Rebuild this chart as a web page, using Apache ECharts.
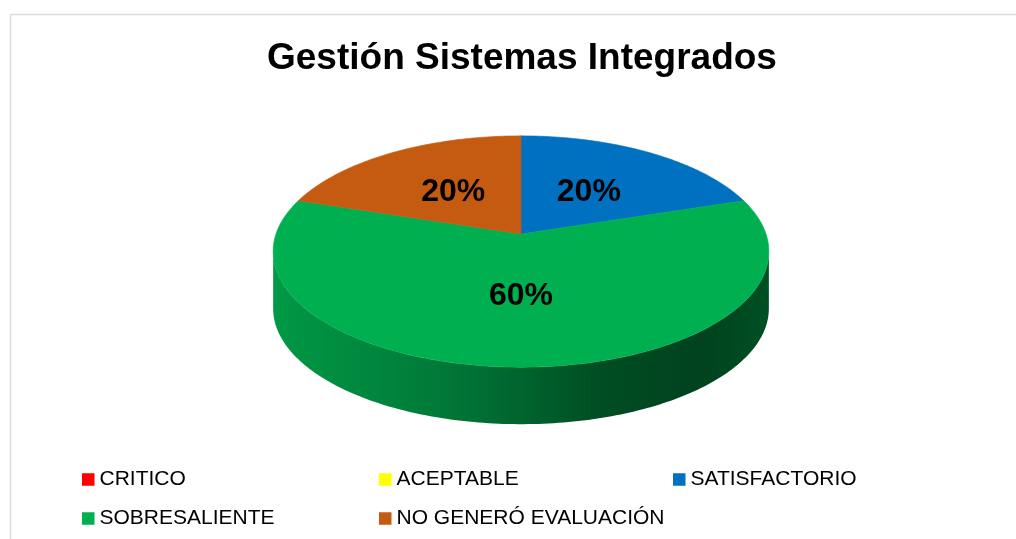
<!DOCTYPE html>
<html>
<head>
<meta charset="utf-8">
<script src="https://cdn.jsdelivr.net/npm/echarts@6/dist/echarts.min.js"></script>
<style>
  html, body { margin: 0; padding: 0; background: #fff; }
  #chart { width: 1016px; height: 539px; }
</style>
</head>
<body>
<div id="chart"></div>
<script>
// datos
var categories = ['CRITICO', 'ACEPTABLE', 'SATISFACTORIO', 'SOBRESALIENTE', 'NO GENERÓ EVALUACIÓN'];
var values = [0, 0, 20, 60, 20];
var colors = ['#FF0000', '#FFFF00', '#0070C0', '#00B050', '#C55A11'];
var titleText = 'Gestión Sistemas Integrados';

var total = values.reduce(function (a, b) { return a + b; }, 0);

// geometria del pastel 3D (perspectiva simple)
var CX = 521, CY = 234, RX = 245, RY = 113, K = -0.1515, DEPTH = 57;
var FONT = '"Liberation Sans", Arial, sans-serif';

function proj(theta, r, h) {
  var t = -Math.cos(theta) * r, s = Math.sin(theta) * r;
  var den = 1 + K * t;
  return [CX + RX * s / den, CY + RY * t / den + h];
}

function angles(i) {
  var before = 0;
  for (var k = 0; k < i; k++) before += values[k];
  return [before / total * Math.PI * 2, (before + values[i]) / total * Math.PI * 2];
}

function shade(hex, f) {
  var n = parseInt(hex.slice(1), 16);
  var r = Math.round(((n >> 16) & 255) * f), g = Math.round(((n >> 8) & 255) * f), b = Math.round((n & 255) * f);
  return 'rgb(' + r + ',' + g + ',' + b + ')';
}

function arc(a0, a1, h) {
  var pts = [];
  var n = Math.max(2, Math.ceil((a1 - a0) / (Math.PI / 180)));
  for (var j = 0; j <= n; j++) pts.push(proj(a0 + (a1 - a0) * j / n, 1, h));
  return pts;
}

function renderTop(params, api) {
  var i = params.dataIndex;
  if (!values[i]) return;
  var a = angles(i);
  var pts = [proj(0, 0, 0)].concat(arc(a[0], a[1], 0));
  var mid = (a[0] + a[1]) / 2;
  var lp = proj(mid, 0.5, 0);
  return {
    type: 'group',
    children: [{
      type: 'polygon',
      shape: { points: pts },
      style: { fill: colors[i], stroke: colors[i], lineWidth: 0.6 }
    }, {
      type: 'text',
      z2: 10,
      style: {
        text: Math.round(values[i] / total * 100) + '%',
        x: lp[0], y: lp[1] + 1,
        align: 'center', verticalAlign: 'middle',
        fontSize: 32, fontWeight: 'bold', fontFamily: FONT, fill: '#000'
      }
    }]
  };
}

function renderSide(params, api) {
  var i = params.dataIndex;
  if (!values[i]) return;
  var a = angles(i);
  var lo = Math.acos(K), hi = Math.PI * 2 - Math.acos(K);
  var b0 = Math.max(a[0], lo), b1 = Math.min(a[1], hi);
  if (b1 <= b0) return;
  var pts = arc(b0, b1, 0).concat(arc(b0, b1, DEPTH).reverse());
  var c = colors[i];
  return {
    type: 'polygon',
    shape: { points: pts },
    style: {
      fill: new echarts.graphic.LinearGradient(0, 0, 1, 0, [
        { offset: 0, color: shade(c, 0.87) },
        { offset: 0.34, color: shade(c, 0.69) },
        { offset: 0.5, color: shade(c, 0.57) },
        { offset: 0.66, color: shade(c, 0.44) },
        { offset: 0.86, color: shade(c, 0.375) },
        { offset: 1, color: shade(c, 0.45) }
      ])
    }
  };
}

var pieData = categories.map(function (name, i) {
  return { name: name, value: values[i], itemStyle: { color: colors[i] } };
});

var chart = echarts.init(document.getElementById('chart'));

function legendCol(names, left) {
  return {
    data: names,
    orient: 'vertical',
    left: left,
    top: 469,
    padding: 0,
    itemGap: 18,
    itemWidth: 12.5,
    itemHeight: 12.5,
    icon: 'rect',
    selectedMode: false,
    itemStyle: { borderWidth: 0 },
    textStyle: { fontSize: 21, lineHeight: 21, fontFamily: FONT, color: '#000', padding: [0, 0, 0, 0] }
  };
}

chart.setOption({
  backgroundColor: '#fff',
  color: colors,
  animation: false,
  title: {
    text: titleText,
    left: 262,
    top: 35,
    textStyle: { fontSize: 37, fontWeight: 'bold', fontFamily: FONT, color: '#000' }
  },
  graphic: [{
    type: 'rect',
    shape: { x: 10.5, y: 14.5, width: 1100, height: 600 },
    style: { fill: 'none', stroke: '#d9dee4', lineWidth: 1.5 },
    silent: true
  }],
  legend: [
    legendCol(['CRITICO', 'SOBRESALIENTE'], 82),
    legendCol(['ACEPTABLE', 'NO GENERÓ EVALUACIÓN'], 379),
    legendCol(['SATISFACTORIO'], 673)
  ],
  series: [{
    // solo para la leyenda
    type: 'pie',
    radius: [0, 0],
    center: [CX, CY],
    silent: true,
    label: { show: false },
    labelLine: { show: false },
    itemStyle: { borderWidth: 0 },
    data: pieData
  }, {
    type: 'custom',
    name: 'lado',
    coordinateSystem: 'none',
    z: 2,
    silent: true,
    renderItem: renderSide,
    data: values
  }, {
    type: 'custom',
    name: 'tapa',
    coordinateSystem: 'none',
    z: 3,
    silent: true,
    renderItem: renderTop,
    data: values
  }]
});
</script>
</body>
</html>
